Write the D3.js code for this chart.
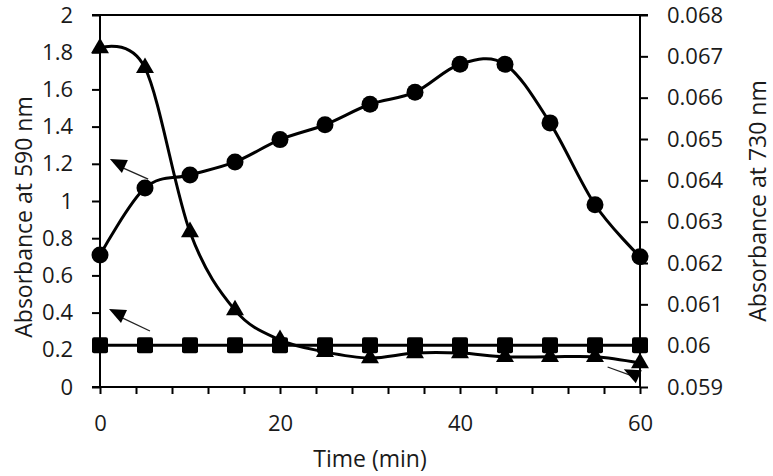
<!DOCTYPE html>
<html>
<head>
<meta charset="utf-8">
<script src="https://cdn.jsdelivr.net/npm/d3@7/dist/d3.min.js"></script>
<style>
  html, body { margin: 0; padding: 0; background: #fff; }
  svg text { font-family: "Open Sans", "Noto Sans", sans-serif; fill: #1a1a1a; }
</style>
</head>
<body>
<svg id="chart" width="773" height="476"></svg>
<script>
// ---- data ----
const times = [0, 5, 10, 15, 20, 25, 30, 35, 40, 45, 50, 55, 60];
// circles (left axis, absorbance at 590 nm)
const circleValues = [0.71, 1.07, 1.14, 1.21, 1.33, 1.41, 1.52, 1.585, 1.735, 1.735, 1.42, 0.98, 0.70];
// squares (left axis)
const squareValues = [0.225, 0.225, 0.225, 0.225, 0.225, 0.225, 0.225, 0.225, 0.225, 0.225, 0.225, 0.225, 0.225];
// triangles (right axis, absorbance at 730 nm)
const triangleValues = [0.06720, 0.06672, 0.06275, 0.06086, 0.06014, 0.05985, 0.05970, 0.05982, 0.05982, 0.05973, 0.05973, 0.05973, 0.05958];

const leftTicks = [0, 0.2, 0.4, 0.6, 0.8, 1, 1.2, 1.4, 1.6, 1.8, 2];
const rightTicks = [0.059, 0.06, 0.061, 0.062, 0.063, 0.064, 0.065, 0.066, 0.067, 0.068];
const xTicks = [0, 4, 8, 12, 16, 20, 24, 28, 32, 36, 40, 44, 48, 52, 56, 60];
const xLabels = [0, 20, 40, 60];

// arrow annotations: [fromTime, fromValue, toTime, toValue] on the left axis scale
const arrows = [
  [5.35, 1.118, 2.1, 1.188],
  [5.55, 0.301, 2.0, 0.382],
  [56.4, 0.1075, 59.2, 0.058]
];

// ---- layout ----
const svg = d3.select("#chart");
const L = 100, R = 640, T = 15, B = 387;
const x = d3.scaleLinear().domain([0, 60]).range([L, R]);
const yL = d3.scaleLinear().domain([0, 2]).range([B, T]);
const yR = d3.scaleLinear().domain([0.059, 0.068]).range([B, T]);

const fs = 22;

// top border
svg.append("line").attr("x1", L - 8).attr("x2", R + 8).attr("y1", T).attr("y2", T)
  .attr("stroke", "#000").attr("stroke-width", 2);

// left axis
const gL = svg.append("g").attr("transform", `translate(${L},0)`)
  .call(d3.axisLeft(yL).tickValues(leftTicks).tickSize(8).tickPadding(19)
    .tickFormat(d => d3.format("~g")(d)));
// right axis
const gR = svg.append("g").attr("transform", `translate(${R},0)`)
  .call(d3.axisRight(yR).tickValues(rightTicks).tickSize(8).tickPadding(19)
    .tickFormat(d => d3.format("~g")(+d.toFixed(3))));
// bottom axis
const gX = svg.append("g").attr("transform", `translate(0,${B})`)
  .call(d3.axisBottom(x).tickValues(xTicks).tickSize(7).tickPadding(21)
    .tickFormat(d => xLabels.includes(d) ? d : ""));

[gL, gR, gX].forEach(g => {
  g.select(".domain").attr("stroke", "#000").attr("stroke-width", 2);
  g.selectAll(".tick line").attr("stroke", "#000").attr("stroke-width", 2);
  g.selectAll(".tick text").attr("font-size", fs).attr("font-family", "Open Sans").attr("fill", "#1a1a1a");
});
gX.select(".domain").attr("d", `M${L - 8},0H${R}`);
gL.select(".domain").attr("d", `M0,${T}V${B}`);
gR.select(".domain").attr("d", `M0,${T}V${B}`);

// axis titles
svg.append("text").attr("x", (L + R) / 2).attr("y", 467).attr("text-anchor", "middle")
  .attr("font-size", 23).text("Time (min)");
svg.append("text").attr("transform", `translate(32,${(T + B) / 2 + 16}) rotate(-90)`)
  .attr("text-anchor", "middle").attr("font-size", 23).text("Absorbance at 590 nm");
svg.append("text").attr("transform", `translate(766,${(T + B) / 2}) rotate(-90)`)
  .attr("text-anchor", "middle").attr("font-size", 23).text("Absorbance at 730 nm");

// series
const curve = d3.curveCatmullRom.alpha(0);
const lineL = d3.line().x((d, i) => x(times[i])).y(d => yL(d)).curve(curve);
const lineR = d3.line().x((d, i) => x(times[i])).y(d => yR(d)).curve(curve);
const lineS = d3.line().x((d, i) => x(times[i])).y(d => yL(d));

svg.append("path").attr("d", lineS(squareValues)).attr("fill", "none").attr("stroke", "#000").attr("stroke-width", 3);
svg.append("path").attr("d", lineR(triangleValues)).attr("fill", "none").attr("stroke", "#000").attr("stroke-width", 3);
svg.append("path").attr("d", lineL(circleValues)).attr("fill", "none").attr("stroke", "#000").attr("stroke-width", 3);

// markers
svg.append("g").selectAll("rect").data(squareValues).join("rect")
  .attr("x", (d, i) => x(times[i]) - 8).attr("y", d => yL(d) - 8)
  .attr("width", 16).attr("height", 16).attr("rx", 2).attr("fill", "#000");

const tri = d3.symbol().type(d3.symbolTriangle).size(140);
svg.append("g").selectAll("path").data(triangleValues).join("path")
  .attr("transform", (d, i) => `translate(${x(times[i])},${yR(d)})`)
  .attr("d", tri()).attr("fill", "#000");

svg.append("g").selectAll("circle").data(circleValues).join("circle")
  .attr("cx", (d, i) => x(times[i])).attr("cy", d => yL(d)).attr("r", 8.5).attr("fill", "#000");

// arrows
const ga = svg.append("g");
arrows.forEach(a => {
  const x1 = x(a[0]), y1 = yL(a[1]), x2 = x(a[2]), y2 = yL(a[3]);
  ga.append("line").attr("x1", x1).attr("y1", y1).attr("x2", x2).attr("y2", y2)
    .attr("stroke", "#222").attr("stroke-width", 1.3);
  ga.append("path")
    .attr("d", `M${x2 - 9},${y2 - 7}L${x2 + 9},${y2 - 6}L${x2 + 3},${y2 + 7}Z`)
    .attr("fill", "#000");
});
</script>
</body>
</html>
